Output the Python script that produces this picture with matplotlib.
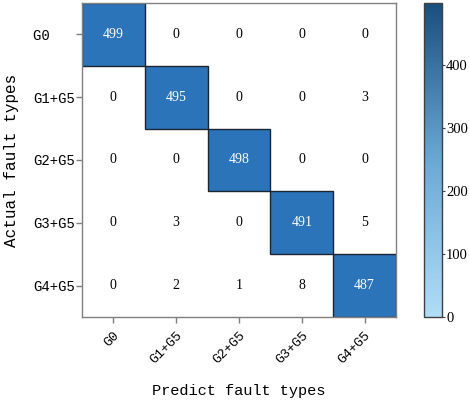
import numpy as np
import matplotlib.pyplot as plt
from matplotlib.colors import ListedColormap, BoundaryNorm, LinearSegmentedColormap, Normalize
from matplotlib.patches import Rectangle
import matplotlib.cm as cm

classes = ['G0', 'G1+G5', 'G2+G5', 'G3+G5', 'G4+G5']
conf = np.array([[499, 0, 0, 0, 0],
                 [0, 495, 0, 0, 3],
                 [0, 0, 498, 0, 0],
                 [0, 3, 0, 491, 5],
                 [0, 2, 1, 8, 487]])

mono = 'Liberation Mono'
serif = 'Liberation Serif'
n = len(classes)

fig = plt.figure(figsize=(4.69, 4.03), dpi=100)
ax = fig.add_axes([0.1748, 0.2134, 0.6695, 0.7792])

# cells: correct predictions filled blue, the rest left white
cell_cmap = ListedColormap(['white', '#2b74ba'])
edges = np.arange(n + 1) - 0.5
ax.pcolormesh(edges, edges, conf, cmap=cell_cmap,
              norm=BoundaryNorm([0, 250, 1000], 2))
ax.set_xlim(-0.5, n - 0.5)
ax.set_ylim(n - 0.5, -0.5)
for i in range(n):
    ax.add_patch(Rectangle((i - 0.5, i - 0.5), 1, 1, fill=False,
                           edgecolor='#1b2633', lw=1.0))

for i in range(n):
    for j in range(n):
        c = 'white' if i == j else 'black'
        ax.text(j, i, str(conf[i, j]), ha='center', va='center',
                color=c, fontsize=10, family=serif)

ax.set_xticks(range(n))
ax.set_yticks(range(n))
ax.set_xticklabels(classes, rotation=45, ha='right', rotation_mode='anchor',
                   family=mono, fontsize=9.5)
ax.set_yticklabels([c.ljust(5) for c in classes], family=mono, fontsize=10)
ax.tick_params(length=4, color='#808080', width=1)
ax.tick_params(axis='y', pad=1)
ax.tick_params(axis='x', pad=5)
for s in ax.spines.values():
    s.set_color('#808080')
    s.set_linewidth(1)

ax.set_xlabel('Predict fault types', family=mono, fontsize=11, labelpad=13)
ax.set_ylabel('Actual fault types', family=mono, fontsize=11.5, labelpad=10)

cax = fig.add_axes([0.904, 0.2134, 0.0384, 0.7792])
bar_cmap = LinearSegmentedColormap.from_list('blues', ['#b0ddf7', '#6aa8d4', '#1a4e7f'])
sm = cm.ScalarMappable(norm=Normalize(0, conf.max()), cmap=bar_cmap)
cb = fig.colorbar(sm, cax=cax, ticks=[0, 100, 200, 300, 400])
cb.outline.set_edgecolor('#404040')
cb.outline.set_linewidth(1)
cax.tick_params(length=2, pad=1, color='#404040', labelsize=10.5)
for t in cax.get_yticklabels():
    t.set_family(serif)

fig.savefig('out.png', dpi=100)
